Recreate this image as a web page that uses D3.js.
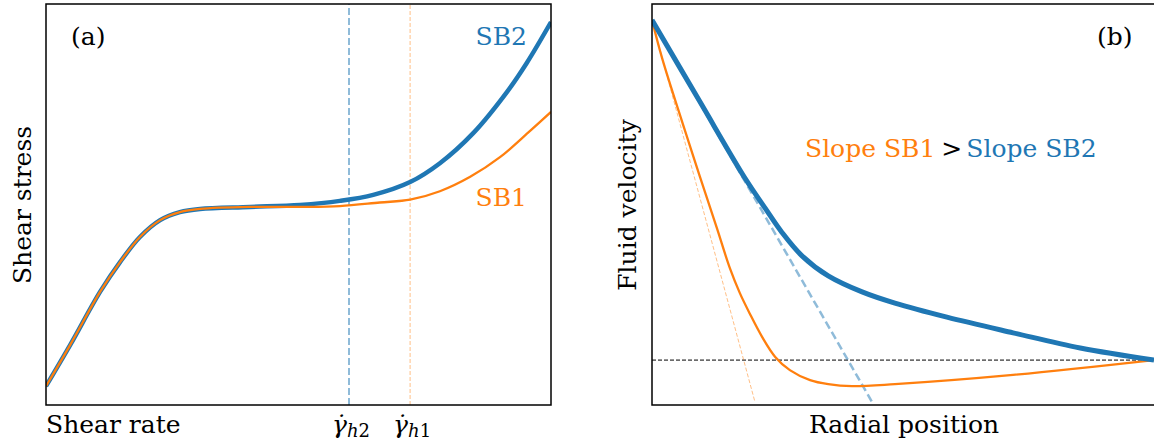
<!DOCTYPE html>
<html>
<head>
<meta charset="utf-8">
<script src="https://cdn.jsdelivr.net/npm/d3@7"></script>
<style>
  body { margin: 0; background: #fff; }
  svg text { font-family: "DejaVu Serif", serif; }
</style>
</head>
<body>
<div id="chart"></div>
<script>
const width = 1154;
const height = 442;

const blue = "#1f77b4";
const orange = "#ff7f0e";

// panel (a): shear stress vs shear rate (arbitrary units 0-10)
const rateSB1 = [0, 0.48, 1.07, 1.47, 1.86, 2.26, 2.65, 3.05, 4.04, 5.03, 5.82, 6.61, 7.21, 7.80, 8.40, 8.99, 9.58, 10];
const stressSB1 = [0.47, 1.50, 2.82, 3.57, 4.19, 4.61, 4.81, 4.89, 4.94, 4.94, 4.96, 5.05, 5.12, 5.33, 5.69, 6.18, 6.83, 7.31];
const rateSB2 = [0, 0.48, 1.07, 1.47, 1.86, 2.26, 2.65, 3.05, 4.04, 5.03, 5.82, 6.48, 7.21, 7.80, 8.46, 9.13, 9.52, 10];
const stressSB2 = [0.47, 1.50, 2.82, 3.57, 4.19, 4.61, 4.81, 4.89, 4.94, 4.99, 5.09, 5.24, 5.56, 6.03, 6.78, 7.81, 8.53, 9.55];
const rateTicks = [6.0, 7.21]; // gamma_h2, gamma_h1

// panel (b): fluid velocity vs radial position
const posSB2 = [0, 0.95, 1.84, 2.24, 2.57, 2.97, 3.49, 4.16, 4.81, 5.84, 7.15, 8.48, 9.94];
const velSB2 = [9.60, 7.56, 5.66, 4.91, 4.31, 3.72, 3.22, 2.82, 2.54, 2.19, 1.80, 1.42, 1.12];
const posSB1 = [0, 0.20, 0.61, 0.95, 1.29, 1.54, 1.74, 1.94, 2.18, 2.44, 2.73, 3.13, 3.49, 3.96, 4.81, 7.15, 9.94];
const velSB1 = [9.60, 8.65, 7.01, 5.69, 4.39, 3.42, 2.79, 2.27, 1.70, 1.20, 0.87, 0.62, 0.52, 0.47, 0.52, 0.75, 1.12];
const tangentSB1 = [[0, 9.60], [2.04, 0.07]];
const tangentSB2 = [[0, 9.60], [4.36, 0.07]];
const wallVelocity = 1.12;

const svg = d3.select("#chart").append("svg")
    .attr("width", width)
    .attr("height", height);

const zip = (xs, ys) => xs.map((v, i) => [v, ys[i]]);

function panel(left) {
    const x = d3.scaleLinear().domain([0, 10]).range([left, left + 505]);
    const y = d3.scaleLinear().domain([0, 10]).range([405, 4]);
    const line = d3.line().x(d => x(d[0])).y(d => y(d[1])).curve(d3.curveCatmullRom.alpha(0.5));
    return { x, y, line };
}

// ---------- panel (a)
const a = panel(46);
const ga = svg.append("g");

ga.append("defs").append("clipPath").attr("id", "clipA")
  .append("rect").attr("x", 46).attr("y", 4).attr("width", 505).attr("height", 401);

const plotA = ga.append("g").attr("clip-path", "url(#clipA)");

plotA.append("line")
    .attr("x1", a.x(rateTicks[0])).attr("x2", a.x(rateTicks[0]))
    .attr("y1", a.y(0)).attr("y2", a.y(10))
    .attr("stroke", blue).attr("stroke-opacity", 0.5)
    .attr("stroke-width", 2).attr("stroke-dasharray", "7,3");

plotA.append("line")
    .attr("x1", a.x(rateTicks[1])).attr("x2", a.x(rateTicks[1]))
    .attr("y1", a.y(0)).attr("y2", a.y(10))
    .attr("stroke", orange).attr("stroke-opacity", 0.5)
    .attr("stroke-width", 1).attr("stroke-dasharray", "4,2");

plotA.append("path")
    .attr("d", a.line(zip(rateSB2, stressSB2)))
    .attr("fill", "none").attr("stroke", blue).attr("stroke-width", 4.5);

plotA.append("path")
    .attr("d", a.line(zip(rateSB1, stressSB1)))
    .attr("fill", "none").attr("stroke", orange).attr("stroke-width", 2.3);

ga.append("rect")
    .attr("x", 46).attr("y", 4).attr("width", 505).attr("height", 401)
    .attr("fill", "none").attr("stroke", "#000").attr("stroke-width", 1.5);

ga.append("text").attr("x", 71).attr("y", 45).attr("font-size", 25).text("(a)");
ga.append("text").attr("x", 527).attr("y", 45).attr("text-anchor", "end")
    .attr("font-size", 25).attr("fill", blue).text("SB2");
ga.append("text").attr("x", 527).attr("y", 206).attr("text-anchor", "end")
    .attr("font-size", 25).attr("fill", orange).text("SB1");

ga.append("text").attr("x", 46).attr("y", 433).attr("font-size", 25).text("Shear rate");
ga.append("text")
    .attr("transform", "translate(31,205) rotate(-90)")
    .attr("text-anchor", "middle").attr("font-size", 25).text("Shear stress");

["2", "1"].forEach((s, i) => {
    const t = ga.append("text")
        .attr("x", a.x(rateTicks[i]) + 2).attr("y", 433)
        .attr("text-anchor", "middle");
    t.append("tspan").attr("font-size", 25).attr("font-style", "italic").text("\u03B3\u0307");
    t.append("tspan").attr("font-size", 18).attr("dy", 4).attr("font-style", "italic").text("h");
    t.append("tspan").attr("font-size", 18).text(s);
});

// ---------- panel (b)
const b = panel(652);
const gb = svg.append("g");

gb.append("defs").append("clipPath").attr("id", "clipB")
  .append("rect").attr("x", 652).attr("y", 4).attr("width", 505).attr("height", 401);

const plotB = gb.append("g").attr("clip-path", "url(#clipB)");
const straight = d3.line().x(d => b.x(d[0])).y(d => b.y(d[1]));

plotB.append("line")
    .attr("x1", b.x(0)).attr("x2", b.x(10))
    .attr("y1", b.y(wallVelocity)).attr("y2", b.y(wallVelocity))
    .attr("stroke", "#000").attr("stroke-width", 1).attr("stroke-dasharray", "4,2");

plotB.append("path").attr("d", straight(tangentSB1))
    .attr("fill", "none").attr("stroke", orange).attr("stroke-opacity", 0.5)
    .attr("stroke-width", 1).attr("stroke-dasharray", "4,2");

plotB.append("path").attr("d", straight(tangentSB2))
    .attr("fill", "none").attr("stroke", blue).attr("stroke-opacity", 0.5)
    .attr("stroke-width", 2.5).attr("stroke-dasharray", "8,4");

plotB.append("path")
    .attr("d", b.line(zip(posSB1, velSB1)))
    .attr("fill", "none").attr("stroke", orange).attr("stroke-width", 2.3);

plotB.append("path")
    .attr("d", b.line(zip(posSB2, velSB2)))
    .attr("fill", "none").attr("stroke", blue).attr("stroke-width", 5);

gb.append("rect")
    .attr("x", 652).attr("y", 4).attr("width", 505).attr("height", 401)
    .attr("fill", "none").attr("stroke", "#000").attr("stroke-width", 1.5);

gb.append("text").attr("x", 1097).attr("y", 45).attr("font-size", 25).text("(b)");

const slope = gb.append("text").attr("x", 805).attr("y", 157).attr("font-size", 25);
slope.append("tspan").attr("fill", orange).text("Slope SB1");
slope.append("tspan").attr("dx", 6).style("font-family", "'DejaVu Sans', sans-serif").text(">");
slope.append("tspan").attr("dx", 4).attr("fill", blue).text("Slope SB2");

gb.append("text").attr("x", 904).attr("y", 433).attr("text-anchor", "middle")
    .attr("font-size", 25).text("Radial position");
gb.append("text")
    .attr("transform", "translate(636,205) rotate(-90)")
    .attr("text-anchor", "middle").attr("font-size", 25).text("Fluid velocity");
</script>
</body>
</html>
